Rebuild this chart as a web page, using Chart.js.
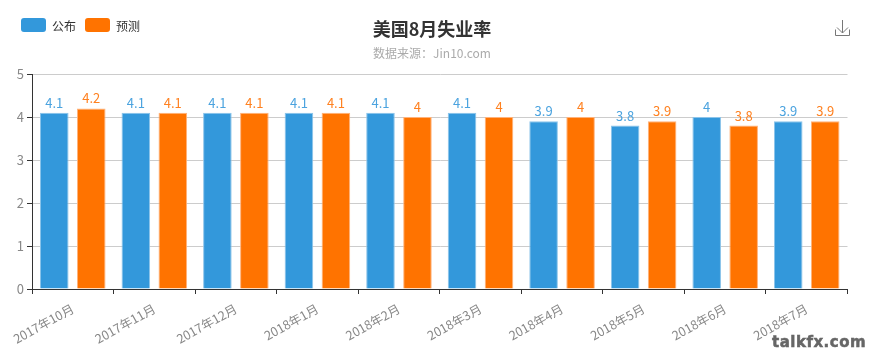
<!DOCTYPE html>
<html>
<head>
<meta charset="utf-8">
<script src="https://cdnjs.cloudflare.com/ajax/libs/Chart.js/4.4.0/chart.umd.min.js"></script>
<style>
  html, body { margin: 0; padding: 0; background: #fff; }
  #wrap { position: relative; width: 870px; height: 354px; overflow: hidden; font-family: "Noto Sans CJK SC", "Noto Sans", sans-serif; }
  #wrap canvas { position: absolute; left: 0; top: 0; }
  .title { position: absolute; left: 0; width: 864px; top: 16px; text-align: center; font-size: 18px; font-weight: bold; color: #333; line-height: 24px; }
  .subtitle { position: absolute; left: 0; width: 864px; top: 44px; text-align: center; font-size: 12px; color: #aaa; line-height: 18px; }
  .legend { position: absolute; top: 18px; font-size: 12px; color: #333; line-height: 15px; }
  .legend i { position: absolute; left: 0; top: 0; width: 25px; height: 14px; border-radius: 3px; }
  .legend span { position: absolute; left: 31px; top: 0; white-space: nowrap; }
  .mark { position: absolute; left: 772px; top: 333px; font: bold 15px/18px "DejaVu Sans", sans-serif; color: #666; -webkit-text-stroke: 0.5px #666; letter-spacing: 0.5px; white-space: nowrap; }
  svg { position: absolute; left: 834px; top: 20px; }
</style>
</head>
<body>
<div id="wrap">
  <canvas id="chart" width="870" height="354"></canvas>
  <div class="title">美国8月失业率</div>
  <div class="subtitle">数据来源：Jin10.com</div>
  <div class="legend" style="left:21px"><i style="background:#3398DB"></i><span>公布</span></div>
  <div class="legend" style="left:85px"><i style="background:#FF7300"></i><span>预测</span></div>
  <svg width="16" height="17" viewBox="0 0 16 17" fill="none" stroke="#777" stroke-width="1">
    <path d="M1.5 9.5v6h14v-6M8.5 0v13M3 7.5l5.5 5.5 5.5-5.5"/>
  </svg>
  <div class="mark">talkfx.com</div>
</div>
<script>
const categories = ["2017年10月", "2017年11月", "2017年12月", "2018年1月", "2018年2月", "2018年3月", "2018年4月", "2018年5月", "2018年6月", "2018年7月"]
const published = [4.1, 4.1, 4.1, 4.1, 4.1, 4.1, 3.9, 3.8, 4, 3.9]
const forecast = [4.2, 4.1, 4.1, 4.1, 4, 4, 4, 3.9, 3.8, 3.9]
const yTicks = [0, 1, 2, 3, 4, 5]

// value labels above each bar
const barLabels = {
  id: 'barLabels',
  afterDatasetsDraw(chart) {
    const ctx = chart.ctx
    ctx.save()
    ctx.font = '13px "Noto Sans CJK SC", "Noto Sans", sans-serif'
    ctx.textAlign = 'center'
    ctx.textBaseline = 'alphabetic'
    chart.data.datasets.forEach((ds, i) => {
      ctx.fillStyle = ds.labelColor
      chart.getDatasetMeta(i).data.forEach((bar, j) => {
        ctx.fillText(ds.data[j], bar.x, bar.y - 5)
      })
    })
    ctx.restore()
  }
}

new Chart(document.getElementById('chart'), {
  type: 'bar',
  data: {
    labels: categories,
    datasets: [
      { label: '公布', data: published, backgroundColor: '#3398DB', borderColor: '#8CC4EA', borderWidth: 1, labelColor: '#4BA3DF' },
      { label: '预测', data: forecast, backgroundColor: '#FF7300', borderColor: '#FFB27A', borderWidth: 1, labelColor: '#FF8120' }
    ]
  },
  options: {
    responsive: false,
    animation: false,
    layout: { padding: { top: 74, right: 22.5, left: 0, bottom: 0 } },
    plugins: { legend: { display: false }, title: { display: false }, tooltip: { enabled: false } },
    datasets: { bar: { categoryPercentage: 0.907, barPercentage: 0.773 } },
    scales: {
      x: {
        afterFit(scale) { scale.height = 65 },
        grid: { offset: true, drawOnChartArea: false, tickLength: 5, tickColor: '#333' },
        border: { color: '#333' },
        ticks: {
          autoSkip: false, minRotation: 29, maxRotation: 29, padding: 7, color: '#888',
          font: { size: 12.5, family: '"Noto Sans CJK SC", "Noto Sans", sans-serif' }
        }
      },
      y: {
        min: 0,
        max: 5,
        afterFit(scale) { scale.width = 32 },
        afterBuildTicks(scale) { scale.ticks = yTicks.map(v => ({ value: v })) },
        grid: { color: '#ccc', tickLength: 5, tickColor: '#333' },
        border: { color: '#333' },
        ticks: {
          padding: 3, color: '#888',
          font: { size: 13, family: '"Noto Sans CJK SC", "Noto Sans", sans-serif' }
        }
      }
    }
  },
  plugins: [barLabels]
})
</script>
</body>
</html>
